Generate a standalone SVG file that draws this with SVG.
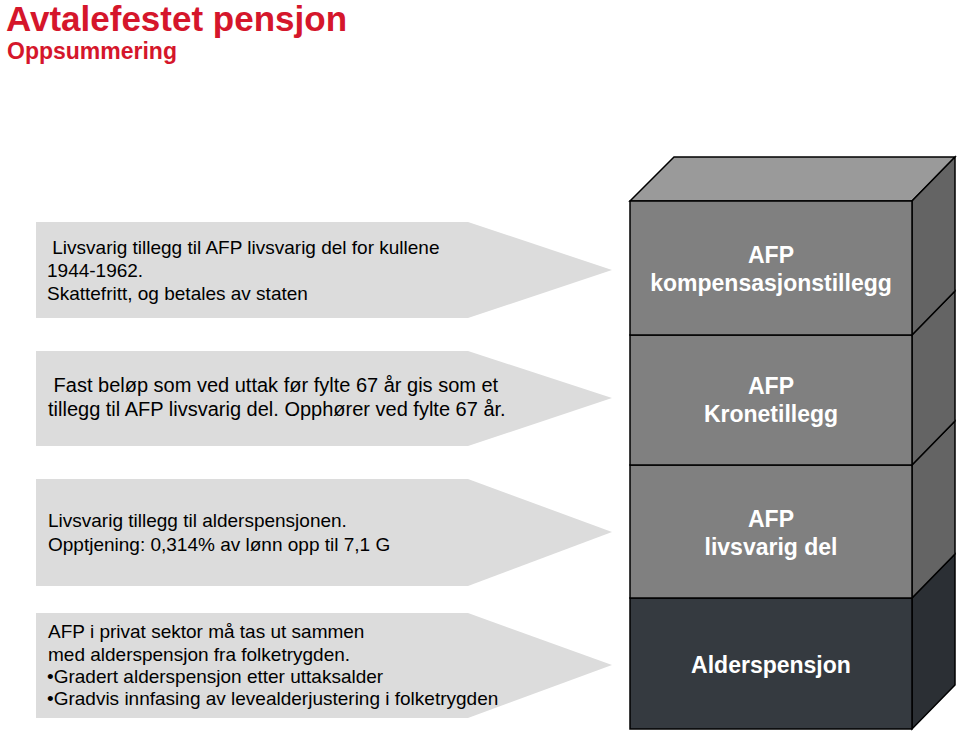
<svg xmlns="http://www.w3.org/2000/svg" width="960" height="734" viewBox="0 0 960 734">
<style>
.title{font-family:"Liberation Sans",Arial,sans-serif;font-weight:bold;fill:#d5162b}
.arrow{fill:#dcdcdc}
.atxt{font-family:"Liberation Sans",Arial,sans-serif;font-size:19px;fill:#000}
.atxt.big{font-size:20px}
.front{fill:#808080;stroke:#000;stroke-width:1.5}
.side{fill:#646464;stroke:#000;stroke-width:1.5}
.top{fill:#9a9a9a;stroke:#000;stroke-width:1.5}
.frontd{fill:#353a40;stroke:#000;stroke-width:1.5}
.sided{fill:#2b2f34;stroke:#000;stroke-width:1.5}
.btxt{font-family:"Liberation Sans",Arial,sans-serif;font-weight:bold;font-size:23px;fill:#fff;text-anchor:middle}
</style>
<rect width="960" height="734" fill="#fff"/>
<g id="title">
<text class="title" x="6" y="31" font-size="35">Avtalefestet pensjon</text>
<text class="title" x="7" y="59" font-size="23">Oppsummering</text>
</g>
<g id="arrow1">
<polygon class="arrow" points="36,222 468,222 612,270 468,318 36,318"/>
<text class="atxt" x="47" y="254" xml:space="preserve"> Livsvarig tillegg til AFP livsvarig del for kullene</text>
<text class="atxt" x="47" y="277">1944-1962.</text>
<text class="atxt" x="47" y="300">Skattefritt, og betales av staten</text>
</g>
<g id="arrow2">
<polygon class="arrow" points="36,351 468,351 612,398 468,446 36,446"/>
<text class="atxt big" x="48" y="392" xml:space="preserve"> Fast beløp som ved uttak før fylte 67 år gis som et</text>
<text class="atxt big" x="48" y="416">tillegg til AFP livsvarig del. Opphører ved fylte 67 år.</text>
</g>
<g id="arrow3">
<polygon class="arrow" points="36,479 468,479 612,532 468,586 36,586"/>
<text class="atxt" x="48" y="527">Livsvarig tillegg til alderspensjonen.</text>
<text class="atxt" x="48" y="551">Opptjening: 0,314% av lønn opp til 7,1 G</text>
</g>
<g id="arrow4">
<polygon class="arrow" points="36,613 468,613 612,665 468,718 36,718"/>
<text class="atxt" x="48" y="638">AFP i privat sektor må tas ut sammen</text>
<text class="atxt" x="48" y="661">med alderspensjon fra folketrygden.</text>
<text class="atxt" x="47" y="683">•Gradert alderspensjon etter uttaksalder</text>
<text class="atxt" x="47" y="705">•Gradvis innfasing av levealderjustering i folketrygden</text>
</g>
<g id="block4">
<polygon class="sided" points="912,598 955,554 955,685 912,729"/>
<rect class="frontd" x="630" y="598" width="282" height="131"/>
<text class="btxt" x="771" y="673">Alderspensjon</text>
</g>
<g id="block3">
<polygon class="side" points="912,465 955,421 955,554 912,598"/>
<rect class="front" x="630" y="465" width="282" height="133"/>
<text class="btxt" x="771" y="527">AFP</text>
<text class="btxt" x="771" y="555">livsvarig del</text>
</g>
<g id="block2">
<polygon class="side" points="912,335 955,291 955,421 912,465"/>
<rect class="front" x="630" y="335" width="282" height="130"/>
<text class="btxt" x="771" y="394">AFP</text>
<text class="btxt" x="771" y="422">Kronetillegg</text>
</g>
<g id="block1">
<polygon class="top" points="630,201 674,157 955,157 912,201"/>
<polygon class="side" points="912,201 955,157 955,291 912,335"/>
<rect class="front" x="630" y="201" width="282" height="134"/>
<text class="btxt" x="771" y="263">AFP</text>
<text class="btxt" x="771" y="291">kompensasjonstillegg</text>
</g>
<g id="connectors"/>
</svg>
